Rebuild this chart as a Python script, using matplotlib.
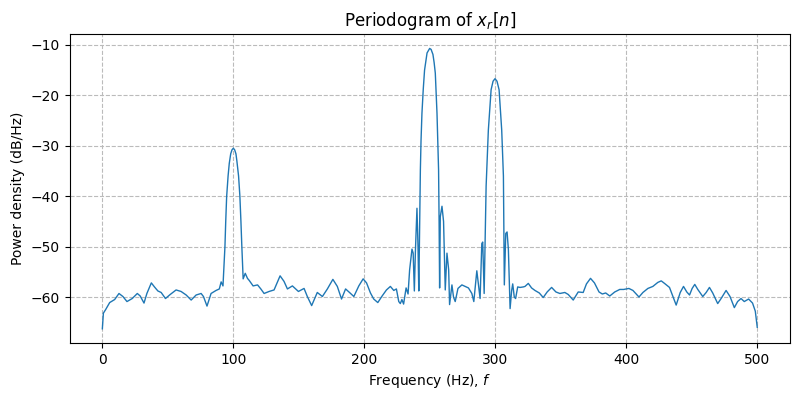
import matplotlib
matplotlib.use("Agg")
import matplotlib.pyplot as plt

# frequency (Hz) and power density (dB/Hz)
freq = [0, 0.8, 2.5, 5.6, 9.4, 12.7, 15.7, 18.8, 22.8, 26.7, 28.9, 31.8, 34.0, 37.4,
        39.8, 42.4, 44.9, 48.2, 51.8, 56.3, 60.1, 64.0, 67.8, 71.6, 75.4, 77.2, 79.9,
        83.0, 86.8, 89.3, 90.7, 92.1, 93.6, 94.2, 94.9, 96.0, 96.9, 98.0, 99.0, 100.0,
        101.0, 102.0, 102.7, 104.0, 105.0, 105.8, 106.5, 107.5, 109.1, 110.8, 112.1,
        115.1, 118.5, 121.0, 123.5, 127.3, 131.1, 135.7, 138.7, 141.3, 145.1, 149.7,
        154.0, 156.5, 159.8, 164.1, 168.0, 171.8, 176.0, 179.4, 182.6, 185.7, 188.7,
        192.0, 195.8, 199.1, 201.7, 204.7, 207.2, 210.3, 213.6, 216.9, 219.9, 222.5,
        224.5, 226.3, 227.5, 228.7, 230.0, 231.9, 233.4, 234.6, 236.4, 237.3, 238.2,
        239.0, 240.2, 241.0, 241.6, 242.3, 242.8, 243.3, 244.0, 245.0, 246.0, 247.9,
        249.9, 251.0, 252.4, 253.3, 254.2, 255.5, 256.1, 256.7, 257.1, 257.5, 258.0,
        259.3, 260.5, 261.8, 263.1, 264.4, 265.1, 266.9, 268.1, 269.4, 271.5, 274.5,
        277.0, 279.5, 282.1, 283.6, 285.9, 287.2, 288.4, 289.7, 290.4, 291.5, 292.3,
        293.0, 293.5, 294.7, 296.8, 298.3, 299.8, 301.3, 302.9, 304.9, 305.5, 306.2,
        306.9, 308.0, 309.0, 310.0, 311.3, 312.5, 313.3, 314.5, 315.5, 317.1, 318.9,
        321.4, 322.7, 325.2, 327.7, 330.3, 333.6, 336.6, 339.6, 343.0, 346.3, 349.3,
        353.1, 355.7, 359.5, 363.3, 367.1, 369.6, 372.7, 375.7, 379.2, 381.7, 384.3,
        387.4, 391.2, 395.0, 398.0, 402.0, 405.1, 409.7, 412.7, 416.5, 420.3, 424.1,
        426.7, 429.2, 433.0, 435.6, 438.1, 441.2, 443.7, 446.2, 448.3, 450.3, 452.3,
        454.6, 458.4, 461.0, 463.5, 466.0, 469.8, 472.4, 476.2, 479.2, 482.5, 485.0,
        487.6, 490.1, 493.4, 496.4, 498.5, 500.0]
power = [-66.3, -63.2, -62.5, -61.1, -60.5, -59.3, -59.9, -60.9, -60.3, -59.3, -59.8,
         -61.2, -59.3, -57.2, -58.0, -58.8, -59.1, -60.3, -59.5, -58.6, -58.9, -59.6,
         -60.6, -59.6, -59.3, -59.9, -61.8, -59.3, -58.7, -58.4, -57.0, -57.8, -50.0,
         -45.0, -40.1, -36.0, -33.5, -31.6, -30.8, -30.5, -30.8, -31.6, -33.0, -36.0,
         -40.0, -45.0, -50.0, -56.4, -55.3, -56.3, -56.7, -57.8, -57.6, -58.4, -59.3,
         -58.9, -58.6, -55.8, -56.9, -58.4, -57.8, -58.9, -58.3, -59.9, -61.7, -59.1,
         -59.9, -58.4, -56.5, -57.9, -60.4, -58.4, -59.1, -59.9, -57.8, -56.4, -57.2,
         -59.2, -60.4, -61.1, -59.8, -58.6, -57.9, -58.7, -58.4, -60.9, -61.3, -60.5,
         -61.4, -58.2, -59.4, -54.6, -50.5, -51.3, -58.8, -51.0, -42.4, -50.0, -58.8,
         -45.0, -34.8, -29.0, -23.6, -18.8, -15.0, -11.6, -10.7, -10.9, -11.9, -13.5,
         -15.6, -23.6, -29.0, -34.8, -45.0, -58.2, -44.1, -42.0, -45.0, -58.6, -51.3,
         -54.6, -61.5, -57.6, -60.0, -60.9, -58.3, -57.6, -57.9, -58.2, -59.3, -60.9,
         -54.8, -57.6, -60.3, -49.4, -49.1, -59.3, -48.0, -38.0, -34.8, -26.9, -18.9,
         -17.2, -16.7, -17.2, -18.9, -26.9, -31.0, -36.0, -57.6, -47.4, -47.1, -50.6,
         -62.3, -58.7, -57.4, -60.0, -60.3, -58.0, -58.1, -58.0, -57.9, -57.3, -58.2,
         -58.7, -59.2, -60.1, -59.0, -58.1, -59.0, -59.3, -59.1, -59.5, -60.6, -59.0,
         -59.1, -57.4, -56.3, -57.2, -59.0, -59.4, -59.2, -59.8, -59.0, -58.5, -58.5,
         -58.3, -58.7, -60.0, -59.1, -58.3, -57.9, -57.1, -56.8, -57.3, -58.1, -59.9,
         -61.6, -59.1, -57.9, -59.0, -59.6, -58.3, -57.5, -58.5, -59.9, -59.1, -58.1,
         -59.2, -61.3, -60.3, -58.7, -59.9, -62.1, -60.9, -60.3, -60.9, -60.4, -61.2,
         -62.8, -66.0]

fig, ax = plt.subplots(figsize=(8, 4), dpi=100)
ax.plot(freq, power, color='tab:blue', linewidth=1)

ax.set_title('Periodogram of $x_r[n]$')
ax.set_xlabel('Frequency (Hz), $f$')
ax.set_ylabel('Power density (dB/Hz)')
ax.grid(True, linestyle='--', color='#bbbbbb')

fig.subplots_adjust(left=0.087, right=0.9875, bottom=0.143, top=0.914)
fig.savefig('out.png')
